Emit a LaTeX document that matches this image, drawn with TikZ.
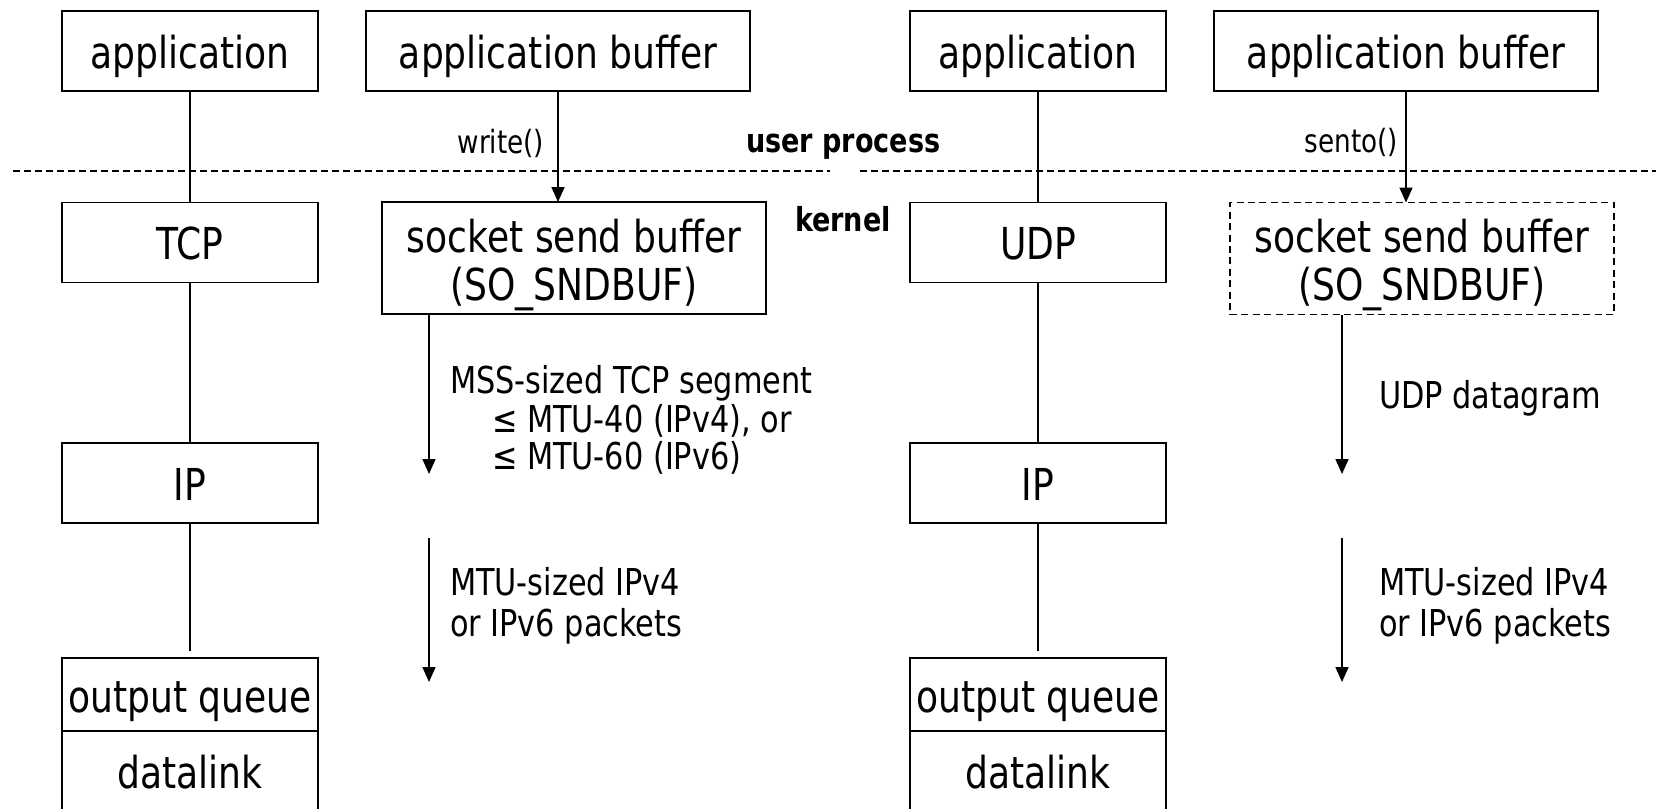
\documentclass[tikz,border=0pt]{standalone}
\usepackage{fontspec}
\setmainfont{DejaVu Sans}[FakeStretch=0.82]
\usetikzlibrary{arrows.meta}
\begin{document}
\begin{tikzpicture}[x=0.5pt,y=-0.5pt,
  every node/.style={inner sep=0pt, outer sep=0pt},
  stackbox/.style={draw, line width=0.85pt, font=\fontsize{22pt}{24pt}\selectfont,
    text height=17pt, text depth=0pt, minimum height=40pt},
  narrowbox/.style={stackbox, minimum width=128pt},
  widebox/.style={stackbox, minimum width=192pt},
  bufbox/.style={draw, line width=0.85pt, minimum width=192pt, minimum height=56pt,
    align=center, font=\fontsize{22pt}{24pt}\selectfont},
  linkline/.style={line width=0.85pt},
  flowarrow/.style={line width=0.85pt, -{Triangle[length=7.5pt,width=6.5pt]}},
  calllbl/.style={font=\fontsize{16pt}{18pt}\selectfont},
  zonelbl/.style={font=\fontsize{16.5pt}{18pt}\selectfont\bfseries},
  notelbl/.style={font=\fontsize{18.5pt}{20pt}\selectfont},
  sepline/.style={line width=0.85pt, dash pattern=on 3.3pt off 2.2pt}
]
\useasboundingbox (0,0) rectangle (1656,809);

% ---------- TCP stack ----------
\node[narrowbox] (appL) at (190,51) {application};
\node[widebox]   (abL)  at (558,51) {application buffer};
\node[narrowbox] (tcpL) at (190,242.5) {TCP};
\node[bufbox]    (sbL)  at (574,258) {\rule{0pt}{24pt}socket send buffer\\(SO\_SNDBUF)\rule[-6pt]{0pt}{0pt}};
\node[narrowbox] (ipL)  at (190,483) {IP};
\node[narrowbox, minimum height=36.5pt, text height=17.5pt] (oqL) at (190,694.5) {output queue};
\node[narrowbox, minimum height=50pt, text height=7pt] (dlL) at (190,781) {datalink};

% ---------- UDP stack ----------
\node[narrowbox] (appR) at (1038,51) {application};
\node[widebox]   (abR)  at (1406,51) {application buffer};
\node[narrowbox] (udpR) at (1038,242.5) {UDP};
\node[bufbox, dash pattern=on 3.5pt off 2.2pt] (sbR) at (1422,258.5) {\rule{0pt}{24pt}socket send buffer\\(SO\_SNDBUF)\rule[-6pt]{0pt}{0pt}};
\node[narrowbox] (ipR)  at (1038,483) {IP};
\node[narrowbox, minimum height=36.5pt, text height=17.5pt] (oqR) at (1038,694.5) {output queue};
\node[narrowbox, minimum height=50pt, text height=7pt] (dlR) at (1038,781) {datalink};

% ---------- user/kernel boundary ----------
\coordinate (sepA) at (13,171);
\coordinate (sepB) at (830,171);
\coordinate (sepC) at (860,171);
\coordinate (sepD) at (1656,171);
\draw[sepline] (sepA) -- (sepB);
\draw[sepline] (sepC) -- (sepD);
\node[zonelbl, anchor=base west] (userLbl) at (746,152) {user process};
\node[zonelbl, anchor=base west] (kernLbl) at (795,231) {kernel};

% ---------- layer links ----------
\draw[linkline] (appL) -- (tcpL);
\draw[linkline] (tcpL) -- (ipL);
\draw[linkline, shorten >=3.5pt] (ipL) -- (oqL);
\draw[linkline] (appR) -- (udpR);
\draw[linkline] (udpR) -- (ipR);
\draw[linkline, shorten >=3.5pt] (ipR) -- (oqR);

% ---------- data flow, TCP ----------
\draw[flowarrow] (abL) -- (abL |- sbL.north);
\node[calllbl, anchor=base east] (writeLbl) at (544,153) {write()};
\coordinate (segEndL) at (429,474);
\draw[flowarrow] (sbL.south -| segEndL) -- (segEndL);
\node[notelbl, anchor=base west] (mss1) at (450,393) {MSS-sized TCP segment};
\node[notelbl, anchor=base west] (mss2) at (492,432) {≤ MTU-40 (IPv4), or};
\node[notelbl, anchor=base west] (mss3) at (492,469) {≤ MTU-60 (IPv6)};
\coordinate (pktTopL) at (429,538);
\coordinate (pktEndL) at (429,682);
\draw[flowarrow] (pktTopL) -- (pktEndL);
\node[notelbl, anchor=base west] (mtuL1) at (450,595) {MTU-sized IPv4};
\node[notelbl, anchor=base west] (mtuL2) at (450,636) {or IPv6 packets};

% ---------- data flow, UDP ----------
\draw[flowarrow] (abR) -- (abR |- sbR.north);
\node[calllbl, anchor=base east] (sentoLbl) at (1398,152) {sento()};
\coordinate (dgEndR) at (1342,474);
\draw[flowarrow] (sbR.south -| dgEndR) -- (dgEndR);
\node[notelbl, anchor=base west] (udpLbl) at (1379,408) {UDP datagram};
\coordinate (pktTopR) at (1342,538);
\coordinate (pktEndR) at (1342,682);
\draw[flowarrow] (pktTopR) -- (pktEndR);
\node[notelbl, anchor=base west] (mtuR1) at (1379,595) {MTU-sized IPv4};
\node[notelbl, anchor=base west] (mtuR2) at (1379,636) {or IPv6 packets};
\end{tikzpicture}
\end{document}
